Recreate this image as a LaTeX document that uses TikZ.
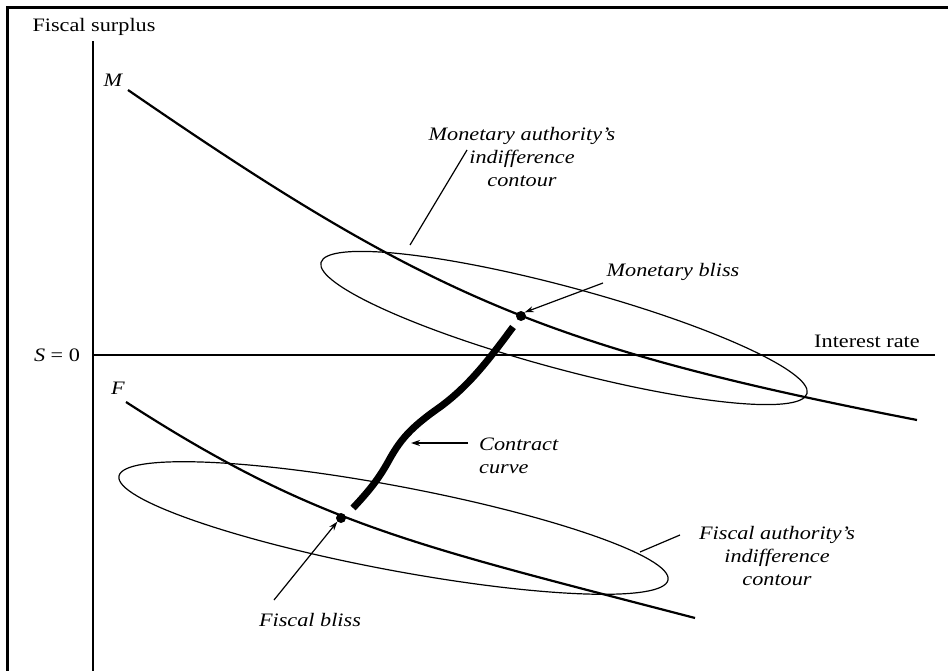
\documentclass[tikz,border=0pt]{standalone}
\usepackage{fontspec}
\setmainfont{Liberation Serif}[FakeStretch=1.17]
\usetikzlibrary{arrows.meta}
\begin{document}
\begin{tikzpicture}[x=1pt,y=-1pt,
  lbl/.style={inner sep=0pt,font=\fontsize{19}{23}\selectfont},
  ilbl/.style={lbl,font=\fontsize{19}{23}\selectfont\itshape,align=center},
  axis/.style={line width=1.3pt},
  curve/.style={line width=2.2pt},
  contour/.style={line width=1.2pt},
  leader/.style={line width=1.2pt},
  arr/.style={line width=1.2pt,-{Stealth[length=9pt,width=6pt]}},
  dot/.style={circle,fill=black,inner sep=0pt,minimum size=10pt}]
\useasboundingbox (0,0) rectangle (948,671);
% frame
\draw[line width=2.7pt] (7.5,671) -- (7.5,7.5) -- (948,7.5);
% axes
\coordinate (yb) at (93,671);
\coordinate (yt) at (93,41);
\coordinate (xl) at (93,355);
\coordinate (xr) at (935,355);
\draw[axis] (yb) -- (yt);
\draw[axis] (xl) -- (xr);
\node[lbl] (ylab) at (94,27) {Fiscal surplus};
\node[lbl] (xlab) at (867,341) {Interest rate};
\node[lbl] (s0) at (57,355) {\textit{S} = 0};
\node[ilbl] (mlab) at (113,80) {M};
\node[ilbl] (flab) at (118,388) {F};
% ellipses
\draw[contour,rotate around={-15.1:(564,328)}] (564,328) ellipse [x radius=251.7pt, y radius=41pt];
\draw[contour,rotate around={-10.7:(393.5,528)}] (393.5,528) ellipse [x radius=279.4pt, y radius=42pt];
% M and F curves
\draw[curve] (128,90) .. controls (430,298) and (548,348) .. (917,420);
\draw[curve] (126,402) .. controls (316,525) and (415,545) .. (695,618);
% contract curve
\draw[line width=7pt] (513,327) .. controls (490,358) and (470,385) .. (440,407)
  .. controls (410,428) and (400,440) .. (388,462)
  .. controls (378,480) and (368,492) .. (353,508);
% bliss points
\node[dot] (mb) at (521,316) {};
\node[dot] (fb) at (341,518) {};
% labels
\node[ilbl] (mac) at (522,157) {Monetary authority's\\indifference\\contour};
\node[ilbl] (mbl) at (673,272) {Monetary bliss};
\node[ilbl,align=left,anchor=west] (cc) at (479,456) {Contract\\curve};
\node[ilbl] (fac) at (777,556) {Fiscal authority's\\indifference\\contour};
\node[ilbl] (fbl) at (310,620) {Fiscal bliss};
% leaders and arrows
\coordinate (macend) at (410,245);
\draw[leader] (467,150) -- (macend);
\coordinate (facend) at (640,552);
\draw[leader] (680,535) -- (facend);
\draw[arr] (603,283) -- (mb.north east);
\draw[arr] (468,443) -- (411,443);
\draw[arr] (274,600) -- (fb.south west);
\end{tikzpicture}
\end{document}
